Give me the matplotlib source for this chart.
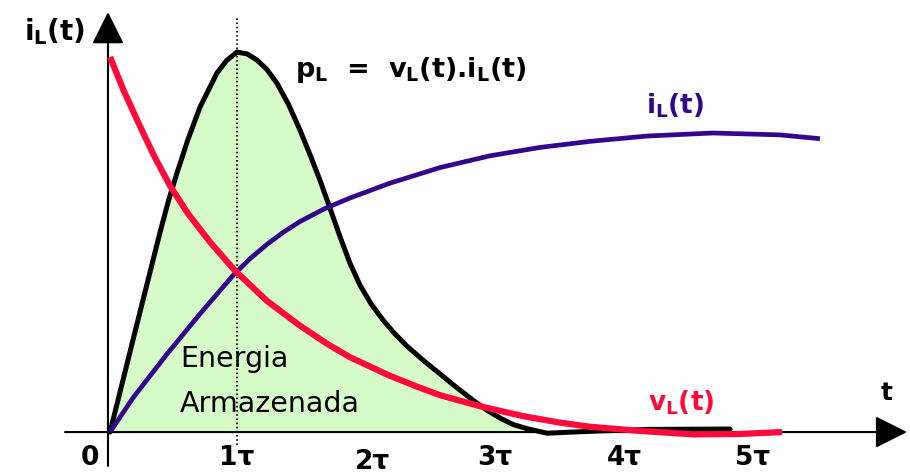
import numpy as np
import matplotlib
matplotlib.use("Agg")
import matplotlib.pyplot as plt

# --- curves (t in units of tau, amplitude normalised to the power peak) ---
t_v = [0.016, 0.12, 0.248, 0.36, 0.481, 0.62, 0.791, 0.984, 1.233, 1.488,
       1.70, 1.876, 2.186, 2.40, 2.574, 2.884, 3.217, 3.50, 3.736, 4.124,
       4.535, 4.899, 5.225]
v_L = [0.987, 0.900, 0.805, 0.725, 0.648, 0.575, 0.500, 0.425, 0.345, 0.280,
       0.232, 0.197, 0.148, 0.119, 0.097, 0.068, 0.042, 0.025, 0.014, 0.003,
       -0.006, -0.005, 0.0]

t_i = [0.016, 0.194, 0.457, 0.713, 0.969, 1.10, 1.233, 1.36, 1.488, 1.68,
       1.876, 2.186, 2.574, 2.961, 3.349, 3.736, 4.178, 4.690, 5.209, 5.519]
i_L = [0.0, 0.090, 0.205, 0.311, 0.412, 0.456, 0.494, 0.526, 0.554, 0.588,
       0.616, 0.655, 0.696, 0.727, 0.749, 0.765, 0.779, 0.787, 0.782, 0.772]

t_p = [0.016, 0.209, 0.403, 0.47, 0.535, 0.62, 0.713, 0.845, 0.92, 1.000,
       1.08, 1.155, 1.23, 1.310, 1.40, 1.488, 1.565, 1.643, 1.72, 1.798,
       1.875, 1.953, 2.04, 2.132, 2.22, 2.318, 2.45, 2.574, 2.70, 2.829,
       2.94, 3.039, 3.14, 3.248, 3.403, 3.60, 3.814, 4.202, 4.822]
p_L = [0.0, 0.263, 0.525, 0.610, 0.682, 0.770, 0.855, 0.945, 0.978, 1.000,
       0.995, 0.979, 0.955, 0.918, 0.862, 0.795, 0.731, 0.663, 0.590, 0.515,
       0.445, 0.387, 0.337, 0.295, 0.260, 0.226, 0.187, 0.153, 0.118, 0.084,
       0.057, 0.037, 0.020, 0.009, -0.003, 0.0, 0.003, 0.007, 0.008]

tick_vals = [0, 1, 2, 3, 4, 5]
tick_labels = ["0", "1\u03c4", "2\u03c4", "3\u03c4", "4\u03c4", "5\u03c4"]

RED = "#ff0a3a"
PURPLE = "#33078c"
GREEN = "#d6fac8"

fig = plt.figure(figsize=(9.1, 4.75), dpi=100)
ax = fig.add_axes([0, 0, 1, 1])
ax.set_xlim(-0.837, 6.217)
ax.set_ylim(-0.113, 1.137)
ax.axis("off")

# stored energy area under p_L
ax.fill_between(t_p, p_L, 0, color=GREEN, lw=0, zorder=1)

# axes with arrow heads
arrow = dict(arrowstyle="-|>,head_length=1.0,head_width=0.5", color="k",
             lw=1.5, mutation_scale=20, shrinkA=0, shrinkB=0)
ax.annotate("", xy=(6.194, 0), xytext=(-0.333, 0), arrowprops=arrow, zorder=5)
ax.annotate("", xy=(0, 1.105), xytext=(0, -0.089), arrowprops=arrow, zorder=5)

# dotted marker at t = tau
ax.plot([1, 1], [-0.034, 1.089], color="k", lw=1.2, ls=(0, (1, 1.5)), zorder=3)

ax.plot(t_p, p_L, color="k", lw=3.6, solid_joinstyle="round",
        solid_capstyle="round", zorder=4)
ax.plot(t_i, i_L, color=PURPLE, lw=3.4, solid_joinstyle="round",
        solid_capstyle="butt", zorder=6)
ax.plot(t_v, v_L, color=RED, lw=4.5, solid_joinstyle="round",
        solid_capstyle="butt", zorder=7)

# tick labels (2tau sits a little lower and to the right)
nudge = {2: (0.05, -0.012)}
for v, lab in zip(tick_vals, tick_labels):
    dx, dy = nudge.get(v, (0, 0))
    x = -0.14 if v == 0 else v + dx
    ax.text(x, -0.068 + dy, lab, ha="center", va="center",
            fontsize=19, fontweight="bold", zorder=8)

bold = dict(fontweight="bold", zorder=8)
ax.text(-0.411, 1.055, r"i$_\mathbf{L}$(t)", ha="center", va="center",
        fontsize=20, **bold)
ax.text(2.349, 0.953, r"p$_\mathbf{L}$  =  v$_\mathbf{L}$(t).i$_\mathbf{L}$(t)",
        ha="center", va="center", fontsize=19.5, **bold)
ax.text(4.395, 0.858, r"i$_\mathbf{L}$(t)", ha="center", va="center",
        fontsize=19, color=PURPLE, **bold)
ax.text(4.442, 0.076, r"v$_\mathbf{L}$(t)", ha="center", va="center",
        fontsize=19, color=RED, **bold)
ax.text(6.039, 0.103, "t", ha="center", va="center", fontsize=18, **bold)

ax.text(0.558, 0.171, "Energia", ha="left", va="baseline", fontsize=20.5, zorder=2)
ax.text(0.558, 0.053, "Armazenada", ha="left", va="baseline", fontsize=20.5, zorder=2)

fig.savefig("out.png", dpi=100)
